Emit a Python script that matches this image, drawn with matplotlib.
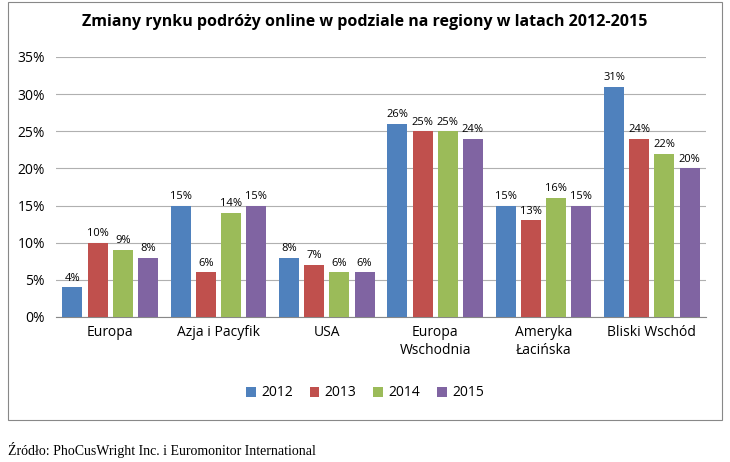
import matplotlib
matplotlib.use("Agg")
import matplotlib.pyplot as plt
from matplotlib.patches import Rectangle
import numpy as np

categories = ["Europa", "Azja i Pacyfik", "USA", "Europa\nWschodnia", "Ameryka\nŁacińska", "Bliski Wschód"]
years = ["2012", "2013", "2014", "2015"]
v2012 = [4, 15, 8, 26, 15, 31]
v2013 = [10, 6, 7, 25, 13, 24]
v2014 = [9, 14, 6, 25, 16, 22]
v2015 = [8, 15, 6, 24, 15, 20]
series = [v2012, v2013, v2014, v2015]
colours = ["#4F81BD", "#C0504D", "#9BBB59", "#8064A2"]

plt.rcParams["font.family"] = "Open Sans"
fig = plt.figure(figsize=(7.3, 4.62), dpi=100)
fig.patches.append(Rectangle((8/730, 1-420/462), 714/730, 418/462, transform=fig.transFigure,
                             fill=False, edgecolor="#888888", linewidth=0.8))
ax = fig.add_axes([56/730, 1-317/462, 650/730, 260/462])

x = np.arange(len(categories))
w = 0.185
stride = 0.232
for i, vals in enumerate(series):
    pos = x + (i - 1.5) * stride
    ax.bar(pos, vals, w, color=colours[i], label=years[i], zorder=3)
    for p, v in zip(pos, vals):
        ax.text(p, v + 0.5, "%d%%" % v, ha="center", va="bottom", fontsize=8)

ax.set_xlim(-0.5, len(categories) - 0.5)
ax.set_ylim(0, 35)
ax.set_yticks(range(0, 36, 5))
ax.set_yticklabels(["%d%%" % t for t in range(0, 36, 5)], fontsize=10)
ax.set_xticks(x)
ax.set_xticklabels(categories, fontsize=10)
ax.tick_params(axis="x", length=0, pad=6)
ax.tick_params(axis="y", length=0, pad=8)
ax.grid(axis="y", color="#b0b0b0", linewidth=0.8, zorder=0)
for s in ["top", "right", "left"]:
    ax.spines[s].set_visible(False)
ax.spines["bottom"].set_color("#888888")

fig.text(0.5, 1-22/462, "Zmiany rynku podróży online w podziale na regiony w latach 2012-2015",
         ha="center", va="center", fontsize=11.5, fontweight="bold")
fig.legend(loc="center", bbox_to_anchor=(0.5, 1-393/462), ncol=4, frameon=False, fontsize=10,
           handlelength=0.7, handleheight=0.7, columnspacing=1.2, handletextpad=0.4)
fig.text(8/730, 1-450/462, "Źródło: PhoCusWright Inc. i Euromonitor International",
         ha="left", va="center", fontsize=10, family="Liberation Serif")
fig.savefig("out.png", dpi=100)
